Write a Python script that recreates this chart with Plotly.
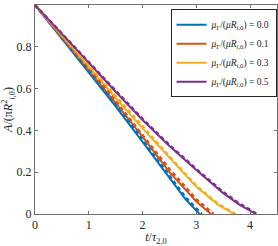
import plotly.graph_objects as go

# Solid curves (simulation)
t_solid = {
    "0.0": [0, 0.5, 1, 1.5, 2, 2.5, 2.8, 3.06],
    "0.1": [0, 0.5, 1, 1.5, 2, 2.5, 3, 3.27],
    "0.3": [0, 0.5, 1, 1.5, 2, 2.5, 3, 3.4, 3.7],
    "0.5": [0, 0.5, 1, 1.5, 2, 2.5, 3, 3.5, 3.8, 4.11],
}
a_solid = {
    "0.0": [1, 0.84, 0.68, 0.515, 0.345, 0.17, 0.07, 0],
    "0.1": [1, 0.845, 0.69, 0.53, 0.37, 0.2, 0.06, 0],
    "0.3": [1, 0.85, 0.70, 0.555, 0.41, 0.27, 0.13, 0.045, 0],
    "0.5": [1, 0.86, 0.72, 0.585, 0.45, 0.325, 0.21, 0.1, 0.045, 0],
}
# Dashed curves (model)
t_dash = {
    "0.0": [0, 0.5, 1, 1.5, 2, 2.5, 2.8, 3.1],
    "0.1": [0, 0.5, 1, 1.5, 2, 2.5, 3, 3.32],
    "0.3": [0, 0.5, 1, 1.5, 2, 2.5, 3, 3.4, 3.73],
    "0.5": [0, 0.5, 1, 1.5, 2, 2.5, 3, 3.5, 3.8, 4.13],
}
a_dash = {
    "0.0": [1, 0.845, 0.69, 0.525, 0.355, 0.18, 0.08, 0],
    "0.1": [1, 0.85, 0.70, 0.54, 0.38, 0.215, 0.07, 0],
    "0.3": [1, 0.855, 0.705, 0.56, 0.415, 0.275, 0.135, 0.05, 0],
    "0.5": [1, 0.862, 0.725, 0.59, 0.455, 0.33, 0.215, 0.105, 0.05, 0],
}
mu_labels = ["0.0", "0.1", "0.3", "0.5"]
colors = ["#0072BD", "#D95319", "#EDB120", "#7E2F8E"]

FONT = "Liberation Serif"
fig = go.Figure()
for k, c in zip(mu_labels, colors):
    fig.add_trace(go.Scatter(
        x=t_solid[k], y=a_solid[k], mode="lines",
        line=dict(color=c, width=2),
        name="<i>μ</i><sub>Γ</sub>/(<i>μR</i><sub><i>i</i>,0</sub>) = " + k,
    ))
for k, c in zip(mu_labels, colors):
    fig.add_trace(go.Scatter(
        x=t_dash[k], y=a_dash[k], mode="lines",
        line=dict(color=c, width=2.5, dash="4px,3px"),
        showlegend=False,
    ))

axis_common = dict(
    showline=True, linecolor="#707070", linewidth=1, mirror="ticks",
    ticks="inside", ticklen=3, tickcolor="#707070",
    showgrid=False, zeroline=False, automargin=False,
    tickfont=dict(family=FONT, size=12, color="#262626"),
)
fig.update_xaxes(range=[0, 4.5], tickvals=[0, 1, 2, 3, 4],
                 title=dict(text="<i>t</i>/<i>τ</i><sub>2,0</sub>",
                            font=dict(family=FONT, size=12, color="#262626"),
                            standoff=0),
                 **axis_common)
fig.update_yaxes(range=[0, 1], tickvals=[0, 0.2, 0.4, 0.6, 0.8, 1],
                 ticktext=["0", "0.2", "0.4", "0.6", "0.8", "1"],
                 title=dict(text="<i>A</i>/(π<i>R</i><sup>2</sup><sub><i>i</i>,0</sub>)",
                            font=dict(family=FONT, size=12, color="#262626"),
                            standoff=0),
                 **axis_common)
fig.update_layout(
    width=278, height=246,
    margin=dict(l=35, r=1, t=5, b=32, autoexpand=False),
    plot_bgcolor="white", paper_bgcolor="white",
    legend=dict(x=0.998, y=0.98, xanchor="right", yanchor="top",
                bgcolor="white", bordercolor="#262626", borderwidth=1,
                font=dict(family=FONT, size=9.5, color="#262626"),
                tracegroupgap=0, itemwidth=30),
    showlegend=True,
)
fig.write_html("out.html", config={"displayModeBar": False},
               post_script="document.body.style.margin='0';document.body.style.padding='0';")
